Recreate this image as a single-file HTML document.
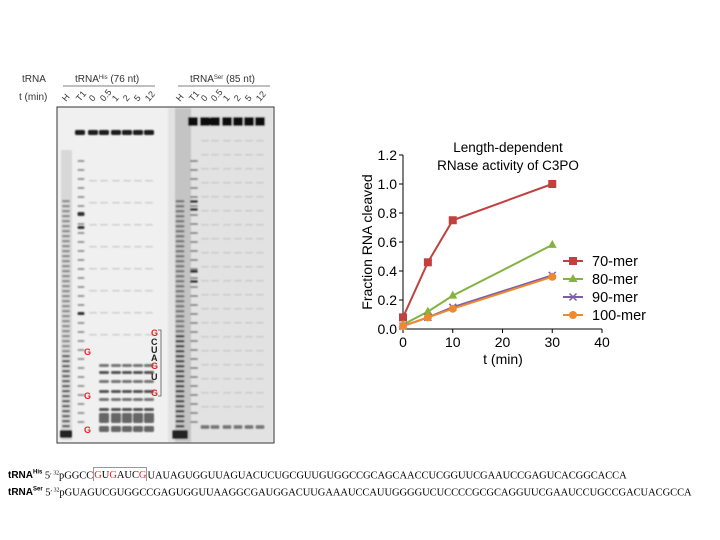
<!DOCTYPE html>
<html><head><meta charset="utf-8"><style>
body{margin:0;width:720px;height:540px;background:#fff;overflow:hidden;font-family:"Liberation Sans",sans-serif}
.seq{position:absolute;left:8px;font-family:"Liberation Serif",serif;font-size:10.5px;white-space:nowrap;letter-spacing:-0.05px}
.seq b{font-family:"Liberation Sans",sans-serif;font-weight:bold;font-size:10px;letter-spacing:0}
.r{color:#e8202a}
</style></head><body>
<svg width="720" height="540" style="position:absolute;left:0;top:0">
<defs><filter id="bl" x="-20%" y="-20%" width="140%" height="140%"><feGaussianBlur stdDeviation="0.9"/></filter></defs>
<g font-size="10" fill="#333">
 <text x="22" y="82">tRNA</text>
 <text x="19" y="100">t (min)</text>
 <text x="75" y="82">tRNA<tspan font-size="6" dy="-3">His</tspan><tspan dy="3"> (76 nt)</tspan></text>
 <line x1="63" y1="86" x2="155" y2="86" stroke="#555" stroke-width="0.8"/>
 <text x="190" y="82">tRNA<tspan font-size="6" dy="-3">Ser</tspan><tspan dy="3"> (85 nt)</tspan></text>
 <line x1="178" y1="86" x2="270" y2="86" stroke="#555" stroke-width="0.8"/>
 <g id="lanelabels"></g>
</g>
<g id="gel"></g>
<g id="chart"></g>
</svg>
<div class="seq" style="top:470px"><b>tRNA<sup style="font-size:6px">His</sup></b> 5<span style="font-size:7px">′ <sup>32</sup></span>pGGCC<span style="border:1px solid #999;border-bottom:none;border-top-width:1px;padding-top:2px"><span class="r">G</span>U<span class="r">G</span>AUC<span class="r">G</span></span>UAUAGUGGUUAGUACUCUGCGUUGUGGCCGCAGCAACCUCGGUUCGAAUCCGAGUCACGGCACCA</div>
<div class="seq" style="top:487px"><b>tRNA<sup style="font-size:6px">Ser</sup></b> 5<span style="font-size:7px">′ <sup>32</sup></span>pGUAGUCGUGGCCGAGUGGUUAAGGCGAUGGACUUGAAAUCCAUUGGGGUCUCCCCGCGCAGGUUCGAAUCCUGCCGACUACGCCA</div>
<script>
const NS="http://www.w3.org/2000/svg";
function mk(p,t,a){const e=document.createElementNS(NS,t);for(const k in a)e.setAttribute(k,a[k]);p.appendChild(e);return e;}
const ll=document.getElementById('lanelabels');
const labs=["H","T1","0","0.5","1","2","5","12"];
const hisX=[66,80,93,104,116,127,138,149], serX=[180,193,205,215,227,238,249,260];
[hisX,serX].forEach(xs=>xs.forEach((x,i)=>{const t=mk(ll,'text',{x:x,y:102,transform:`rotate(-50 ${x} 102)`,'font-size':9});t.textContent=labs[i];

}));
const g0=document.getElementById('gel');
mk(g0,'rect',{x:57,y:107,width:217,height:336,fill:'#f0f0f0'});
const g=mk(g0,'g',{filter:'url(#bl)'});
mk(g,'rect',{x:168,y:108,width:105,height:334,fill:'#e2e2e2'});
mk(g,'rect',{x:175,y:108,width:16,height:334,fill:'#c4c4c4'});
mk(g,'rect',{x:61,y:150,width:11,height:290,fill:'#d8d8d8'});
function band(x,y,w,h,c){mk(g,'rect',{x:x-w/2,y:y,width:w,height:h,rx:1.5,fill:c});}
hisX.slice(1).forEach(x=>band(x,130,10,5,'#1a1a1a'));
serX.slice(1).forEach(x=>band(x,117,10,9,'#111'));
for(let y=200;y<435;y+=5){band(66,y,8,2.2,y>350?'#555':'#888');band(180,y,9,2.5,y>330?'#444':'#777');}
for(let y=160;y<430;y+=9){band(81,y,7,2,'#999');band(194,y,8,2,'#888');}
[212,213,226,312].forEach(y=>band(81,y,7,3,'#333'));
[200,208,270,280].forEach(y=>band(194,y,8,3,'#333'));
band(66,430,12,8,'#222');band(180,430,16,9,'#222');
hisX.slice(3).forEach((x,i)=>{[364,371,380,390,398,408,415].forEach((y,j)=>band(x,y,10,3,j%2?'#555':'#777'));band(x,413,10,10,'#666');band(x,426,10,6,'#666');});
hisX.slice(2).forEach(x=>{for(let y=180;y<340;y+=22)band(x,y,8,1.5,'#ccc');});
serX.slice(2).forEach(x=>{for(let y=140;y<420;y+=14)band(x,y,8,1.5,'#c8c8c8');band(x,425,9,4,'#777');});
mk(g0,'rect',{x:57,y:107,width:217,height:336,fill:'none',stroke:'#333','stroke-width':1});
[["G",84,355],["G",84,399],["G",84,433]].forEach(([s,x,y])=>{const t=mk(g0,'text',{x:x,y:y,'font-size':9,'font-weight':'bold',fill:'#e8202a'});t.textContent=s;});
const seqL=[["G",336,'#e8202a'],["C",345,'#222'],["U",353,'#222'],["A",361,'#222'],["G",369,'#e8202a'],["U",380,'#222'],["G",396,'#e8202a']];
seqL.forEach(([s,y,c])=>{const t=mk(g0,'text',{x:151,y:y,'font-size':9,'font-weight':'bold',fill:c});t.textContent=s;});
mk(g0,'polyline',{points:'158,330 161,330 161,396 158,396',fill:'none',stroke:'#555','stroke-width':0.8});

// ===== chart =====
const times=[0,5,10,30];
const s70=[0.08,0.46,0.75,1.0];
const s80=[0.03,0.12,0.23,0.58];
const s90=[0.02,0.08,0.15,0.37];
const s100=[0.02,0.08,0.14,0.36];
const seriesNames=["70-mer","80-mer","90-mer","100-mer"];
const xTicks=[0,10,20,30,40];
const yTicks=[0.0,0.2,0.4,0.6,0.8,1.0,1.2];
const X=v=>403+v*(602-403)/40, Y=v=>329-v*(329-155)/1.2;
const c=document.getElementById('chart');
mk(c,'line',{x1:403,y1:155,x2:403,y2:329,stroke:'#000','stroke-width':1});
mk(c,'line',{x1:403,y1:329,x2:602,y2:329,stroke:'#000','stroke-width':1});
yTicks.forEach(v=>{mk(c,'line',{x1:399,x2:403,y1:Y(v),y2:Y(v),stroke:'#000'});const t=mk(c,'text',{x:397,y:Y(v)+5,'font-size':14,'text-anchor':'end'});t.textContent=v.toFixed(1);

});
xTicks.forEach(v=>{mk(c,'line',{x1:X(v),x2:X(v),y1:329,y2:333,stroke:'#000'});const t=mk(c,'text',{x:X(v),y:347,'font-size':14,'text-anchor':'middle'});t.textContent=v;

});
let t=mk(c,'text',{x:503,y:364,'font-size':14,'text-anchor':'middle'});t.textContent='t (min)';


t=mk(c,'text',{x:372,y:242,'font-size':14,'text-anchor':'middle',transform:'rotate(-90 372 242)'});t.textContent='Fraction RNA cleaved';


t=mk(c,'text',{x:508,y:152,'font-size':13.5,'text-anchor':'middle'});t.textContent='Length-dependent';


t=mk(c,'text',{x:508,y:170,'font-size':13.5,'text-anchor':'middle'});t.textContent='RNase activity of C3PO';


const data=[s70,s80,s90,s100], cols=['#c0413f','#84b341','#7b5ea7','#ed8a2f'], marks=['sq','tri','x','circ'];
function marker(p,m,x,y,col){
 if(m==='sq')return mk(p,'rect',{x:x-4,y:y-4,width:8,height:8,fill:col});
 if(m==='tri')return mk(p,'polygon',{points:`${x},${y-5} ${x+4.5},${y+3} ${x-4.5},${y+3}`,fill:col});
 if(m==='x')return mk(p,'path',{d:`M${x-3.5},${y-3.5}L${x+3.5},${y+3.5}M${x+3.5},${y-3.5}L${x-3.5},${y+3.5}`,stroke:col,'stroke-width':1.5});
 return mk(p,'circle',{cx:x,cy:y,r:4,fill:col});
}
const legY=[261,279,297,315];
data.forEach((s,i)=>{
 const gg=mk(c,'g',{});
 
 
 mk(gg,'polyline',{points:s.map((v,j)=>X(times[j])+','+Y(v)).join(' '),fill:'none',stroke:cols[i],'stroke-width':2});
 s.forEach((v,j)=>{const m=marker(gg,marks[i],X(times[j]),Y(v),cols[i]);
 
 });
 const lg=mk(c,'g',{});
 
 
 mk(lg,'line',{x1:563,x2:583,y1:legY[i],y2:legY[i],stroke:cols[i],'stroke-width':2});
 marker(lg,marks[i],573,legY[i],cols[i]);
 const tt=mk(lg,'text',{x:592,y:legY[i]+5,'font-size':14.5});tt.textContent=seriesNames[i];
});
</script>
</body></html>
